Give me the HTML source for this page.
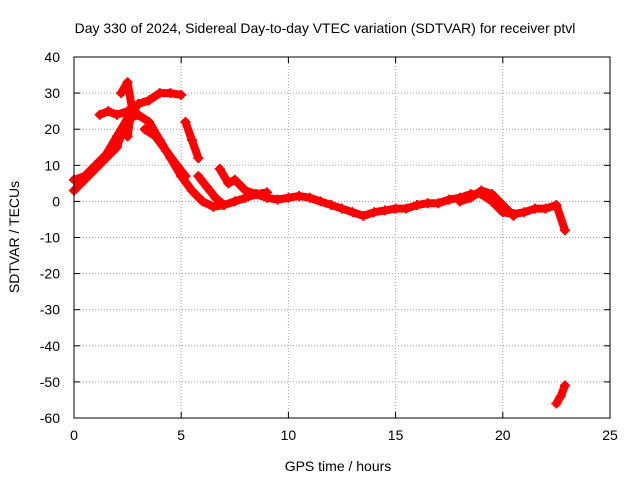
<!DOCTYPE html>
<html><head><meta charset="utf-8"><style>
body{margin:0;background:#fff}
svg{display:block;font-family:"Liberation Sans",sans-serif}
</style></head><body>
<svg id="chart" width="640" height="480">
<text x="325" y="33" font-size="14" text-anchor="middle">Day 330 of 2024, Sidereal Day-to-day VTEC variation (SDTVAR) for receiver ptvl</text>
<text x="338" y="471" font-size="14" text-anchor="middle">GPS time / hours</text>
<text transform="translate(19,237) rotate(-90)" font-size="14" text-anchor="middle">SDTVAR / TECUs</text>
<g id="grid"></g>
<g id="ticks"></g>
<g id="series"></g>
<rect x="74" y="57" width="536" height="361" fill="none" stroke="#000"/>
</svg>
<script>
const xTicks=[0,5,10,15,20,25];
const yTicks=[40,30,20,10,0,-10,-20,-30,-40,-50,-60];
const trackMain=[[0,3],[0.5,6],[1,9],[1.5,12],[2,15],[2.3,20],[2.6,23],[3,24],[3.5,22],[4,17],[4.5,12],[5,7],[5.5,3],[6,0],[6.5,-1.5],[7,-1],[7.5,0],[8,1],[8.5,2],[9,1],[9.5,0.5],[10,1],[10.5,1.5],[11,1],[11.5,0],[12,-1],[12.5,-2],[13,-3],[13.5,-4],[14,-3],[14.5,-2.5],[15,-2],[15.5,-2],[16,-1],[16.5,-0.5],[17,-0.5],[17.5,0.5],[18,1],[18.5,2],[19,2],[19.5,0],[20,-3],[20.5,-3.5],[21,-3],[21.5,-2],[22,-2],[22.5,-1],[22.9,-8]];
const trackUpper=[[0,6],[0.5,7],[1,10],[1.5,13],[2,18],[2.5,23],[3,27],[3.5,28],[4,30],[4.5,30],[5,29.5]];
const trackBranch1=[[1.2,24],[1.6,25],[2,24],[2.5,25],[3,24]];
const trackBranch2=[[2.2,30],[2.5,33],[2.7,26],[2.5,18]];
const trackBranch3=[[3.3,20],[3.8,18],[4.3,14],[4.8,10],[5.2,7]];
const trackBranch4=[[5.2,22],[5.5,17],[5.8,12]];
const trackBranch5=[[5.8,7],[6.2,4],[6.6,1],[7,-1]];
const trackBranch6=[[6.8,9],[7.2,5],[7.5,6],[8,3],[8.5,2],[9,2.5]];
const trackBranch7=[[18,0],[18.5,1],[19,3],[19.5,2],[20,-1],[20.5,-4]];
const trackBottom=[[22.5,-56],[22.7,-54],[22.9,-51]];
const tracks=[trackMain,trackUpper,trackBranch1,trackBranch2,trackBranch3,trackBranch4,trackBranch5,trackBranch6,trackBranch7,trackBottom];
const X0=74,X1=610,Y0=418,Y1=57;
const xs=v=>X0+(v-0)/25*(X1-X0);
const ys=v=>Y0-(v+60)/100*(Y0-Y1);
const NS="http://www.w3.org/2000/svg";
const mk=(t,a,p)=>{const e=document.createElementNS(NS,t);for(const k in a)e.setAttribute(k,a[k]);p.appendChild(e);return e;};
const grid=document.getElementById('grid'),ticks=document.getElementById('ticks'),ser=document.getElementById('series');
xTicks.forEach(v=>{const x=xs(v);
 if(v>0&&v<25){const l=mk('line',{x1:x,x2:x,y1:Y1,y2:Y0,stroke:'#a0a0a0','stroke-dasharray':'1,2'},grid);
 }
 mk('line',{x1:x,x2:x,y1:Y0,y2:Y0-6,stroke:'#000'},ticks);mk('line',{x1:x,x2:x,y1:Y1,y2:Y1+6,stroke:'#000'},ticks);
 const t=mk('text',{x:x,y:Y0+22,'font-size':14,'text-anchor':'middle'},ticks);t.textContent=v;
 });
yTicks.forEach(v=>{const y=ys(v);
 if(v>-60&&v<40){const l=mk('line',{x1:X0,x2:X1,y1:y,y2:y,stroke:'#a0a0a0','stroke-dasharray':'1,2'},grid);
 }
 mk('line',{x1:X0,x2:X0+6,y1:y,y2:y,stroke:'#000'},ticks);mk('line',{x1:X1,x2:X1-6,y1:y,y2:y,stroke:'#000'},ticks);
 const t=mk('text',{x:X0-14,y:y+5,'font-size':14,'text-anchor':'end'},ticks);t.textContent=v;
 });
tracks.forEach(tr=>{
 const pl=mk('polyline',{points:tr.map(p=>xs(p[0])+','+ys(p[1])).join(' '),fill:'none',stroke:'#f00','stroke-width':8,'stroke-linejoin':'round','stroke-linecap':'round'},ser);
 
 tr.forEach(p=>{const x=xs(p[0]),y=ys(p[1]);
  const m=mk('path',{d:`M${x-5},${y}H${x+5}M${x},${y-5}V${y+5}`,stroke:'#f00','stroke-width':2},ser);
  });
});
</script>
</body></html>
